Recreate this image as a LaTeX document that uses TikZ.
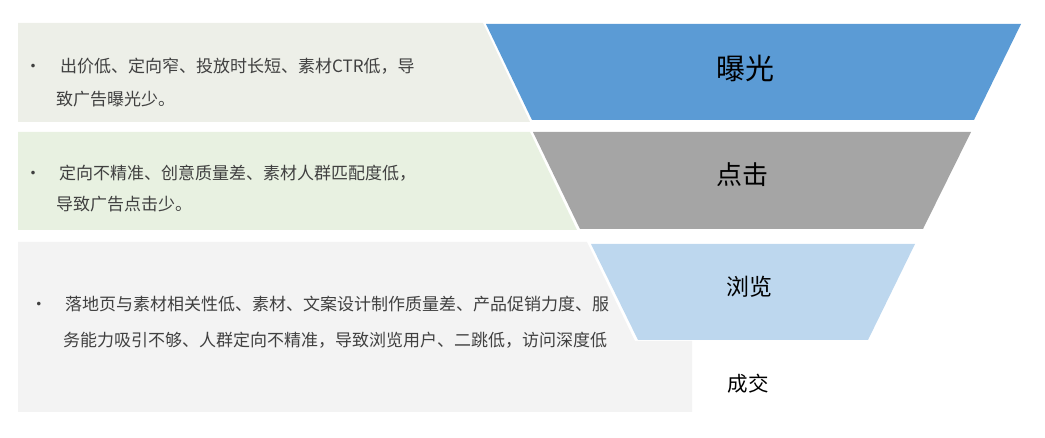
\documentclass[tikz,border=0pt]{standalone}
\usepackage{fontspec}
\setmainfont{Noto Sans CJK SC}
\definecolor{paneone}{HTML}{EDEFE8}
\definecolor{panetwo}{HTML}{E8F1E1}
\definecolor{panethree}{HTML}{F3F3F3}
\definecolor{stepblue}{HTML}{5B9BD5}
\definecolor{stepgray}{HTML}{A5A5A5}
\definecolor{steplight}{HTML}{BDD7EE}
\definecolor{txtgray}{HTML}{404040}
\begin{document}
\begin{tikzpicture}[x=1pt,y=-1pt]
        \useasboundingbox (0,0) rectangle (1045,438);
        \begin{scope}
            \fill[paneone] (18,23) -- (483,23) -- (530,122) -- (18,122) -- cycle;
            \fill[panetwo] (18,132) -- (530,132) -- (577,230) -- (18,230) -- cycle;
            \fill[panethree] (18,242) -- (587,242) -- (635,341) -- (692,341) -- (692,412) -- (18,412) -- cycle;
            \fill[stepblue] (486,24) -- (1021,24) -- (974,120) -- (532,120) -- cycle;
            \fill[stepgray] (533,132) -- (971,132) -- (923,229) -- (580,229) -- cycle;
            \fill[steplight] (591,244) -- (915,244) -- (868,340) -- (638,340) -- cycle;
        \end{scope}
        \begin{scope}[every node/.style={text=txtgray, inner sep=0pt, anchor=base west, font=\fontsize{17}{20}\selectfont}]
            \node[anchor=base] (b1) at (33, 73) {·};
            \node (t1a) at (60, 73) {出价低、定向窄、投放时长短、素材CTR低，导};
            \node (t1b) at (56, 106) {致广告曝光少。};
            \node[anchor=base] (b2) at (33, 180) {·};
            \node (t2a) at (59, 180) {定向不精准、创意质量差、素材人群匹配度低，};
            \node (t2b) at (56, 211) {导致广告点击少。};
            \node[anchor=base] (b3) at (39, 311) {·};
            \node (t3a) at (65, 311) {落地页与素材相关性低、素材、文案设计制作质量差、产品促销力度、服};
            \node (t3b) at (63, 347) {务能力吸引不够、人群定向不精准，导致浏览用户、二跳低，访问深度低};
        \end{scope}
        \begin{scope}[every node/.style={text=black, inner sep=0pt}]
            \node[font=\fontsize{29}{32}\selectfont] (s1) at (745, 68) {曝光};
            \node[font=\fontsize{26}{28}\selectfont] (s2) at (742, 175) {点击};
            \node[font=\fontsize{23}{25}\selectfont] (s3) at (749, 287) {浏览};
            \node[font=\fontsize{20.5}{22}\selectfont] (s4) at (748, 384) {成交};
        \end{scope}
    \end{tikzpicture}
\end{document}
